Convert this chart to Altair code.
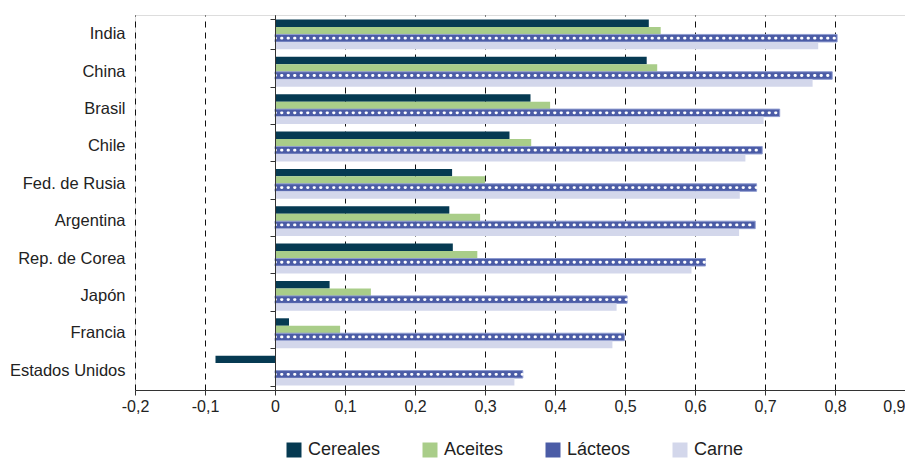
import altair as alt
import pandas as pd

countries = ["India", "China", "Brasil", "Chile", "Fed. de Rusia", "Argentina",
             "Rep. de Corea", "Japón", "Francia", "Estados Unidos"]
series = ["Cereales", "Aceites", "Lácteos", "Carne"]
colors = ["#063a52", "#a9cd89", "#4b5ca6", "#d3d7eb"]

cereales = [0.534, 0.531, 0.365, 0.335, 0.253, 0.249, 0.254, 0.078, 0.020, -0.085]
aceites = [0.551, 0.546, 0.393, 0.366, 0.300, 0.293, 0.289, 0.137, 0.093, 0.0]
lacteos = [0.803, 0.796, 0.721, 0.696, 0.688, 0.686, 0.615, 0.503, 0.499, 0.354]
carne = [0.776, 0.768, 0.698, 0.672, 0.664, 0.663, 0.595, 0.488, 0.482, 0.342]

x_ticks = [-0.2, -0.1, 0.0, 0.1, 0.2, 0.3, 0.4, 0.5, 0.6, 0.7, 0.8, 0.9]

rows = []
for name, vals in zip(series, [cereales, aceites, lacteos, carne]):
    for c, v in zip(countries, vals):
        rows.append({"country": c, "series": name, "value": v})
df = pd.DataFrame(rows)

FONT = "Liberation Sans"

x_axis = alt.Axis(
    values=x_ticks,
    labelExpr="datum.value == 0 ? '0' : replace(replace(format(datum.value, '.1f'), '.', ','), '\u2212', '-')",
    labelAlign={"condition": {"test": "datum.value > 0.85", "value": "right"}, "value": "center"},
    title=None, grid=True, gridDash=[6, 5], gridColor="#111", gridWidth=1,
    domainColor="#333", tickColor="#333", tickSize=5, labelFontSize=16,
    labelPadding=3, labelColor="#222", labelFont=FONT, labelFlush=False,
)
x_scale = alt.Scale(domain=[-0.2, 0.9], nice=False, zero=False)
y_scale = alt.Scale(paddingInner=0.2, paddingOuter=0.12)
off_scale = alt.Scale(domain=series)

bars = alt.Chart(df).mark_bar(stroke="#8e9bd0").encode(
    x=alt.X("value:Q", scale=x_scale, axis=x_axis),
    y=alt.Y("country:N", sort=countries, scale=y_scale,
            axis=alt.Axis(title=None, domain=False, ticks=False, labelFontSize=16.5,
                          labelPadding=10, labelColor="#222", labelLimit=0, labelFont=FONT)),
    yOffset=alt.YOffset("series:N", sort=series, scale=off_scale),
    color=alt.Color("series:N", sort=series,
                    scale=alt.Scale(domain=series, range=colors),
                    legend=alt.Legend(orient="none", legendX=150, legendY=426,
                                      direction="horizontal", title=None,
                                      symbolType="square", symbolSize=225,
                                      symbolStrokeWidth=0, labelFontSize=18,
                                      labelFont=FONT, labelColor="#222",
                                      columnPadding=40, labelOffset=5)),
    strokeWidth=alt.condition("datum.series == 'Lácteos'", alt.value(1), alt.value(0)),
)

dots = alt.Chart(df).transform_filter("datum.series == 'Lácteos'").transform_calculate(
    base="0"
).mark_rule(color="white", strokeWidth=2.8, strokeDash=[0.5, 6], strokeCap="round").encode(
    x=alt.X("base:Q", scale=x_scale, axis=x_axis),
    x2="value:Q",
    y=alt.Y("country:N", sort=countries, scale=y_scale,
            axis=alt.Axis(orient="left", offset=-140, labels=False, title=None,
                          domain=True, ticks=True, tickBand="extent", tickSize=5,
                          domainColor="#333", tickColor="#333", grid=False, zindex=1)),
    yOffset=alt.YOffset("series:N", sort=series, scale=off_scale),
)

chart = alt.layer(bars, dots).resolve_axis(y="independent").properties(
    width=770, height=375,
    autosize=alt.AutoSizeParams(type="none"),
    padding={"left": 127, "top": 7, "right": 0, "bottom": 70},
).configure_view(stroke=None).configure(font=FONT)

chart.save("out.html", embed_options={"renderer": "svg", "actions": False})
